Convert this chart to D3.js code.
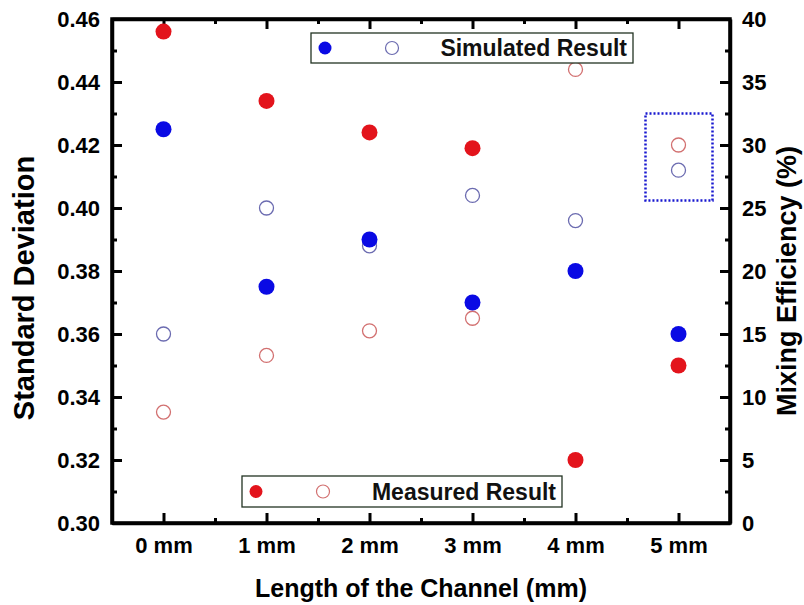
<!DOCTYPE html>
<html>
<head>
<meta charset="utf-8">
<script src="https://cdn.jsdelivr.net/npm/d3@7"></script>
<style>
  body { margin: 0; background: #fff; }
  svg { font-family: "Liberation Sans", Arial, sans-serif; font-weight: bold; }
</style>
</head>
<body>
<div id="chart"></div>
<script>
/** chart values */
const categories = ["0 mm", "1 mm", "2 mm", "3 mm", "4 mm", "5 mm"];
const simulatedStd = [0.425, 0.375, 0.390, 0.370, 0.380, 0.360];
const measuredStd = [0.456, 0.434, 0.424, 0.419, 0.320, 0.350];
const simulatedEff = [15, 25, 22, 26, 24, 28];
const measuredEff = [8.8, 13.3, 15.25, 16.25, 36, 30];
const leftTicks = [0.30, 0.32, 0.34, 0.36, 0.38, 0.40, 0.42, 0.44, 0.46];
const rightTicks = [0, 5, 10, 15, 20, 25, 30, 35, 40];

const width = 804, height = 605;
const margin = { top: 19, right: 74, bottom: 82, left: 112 };
const blue = "#0a0ae4", red = "#e3141c";
const blueOpen = "#6b6bb0", redOpen = "#d27070";

const svg = d3.select("#chart").append("svg")
  .attr("width", width).attr("height", height);

/** scales */
const x = d3.scalePoint().domain(categories)
  .range([margin.left, width - margin.right]).padding(0.5);
const yL = d3.scaleLinear().domain([0.30, 0.46])
  .range([height - margin.bottom, margin.top]);
const yR = d3.scaleLinear().domain([0, 40])
  .range([height - margin.bottom, margin.top]);

const step = x.step();
const minorX = categories.slice(0, -1).map((c) => x(c) + step / 2);
const minorL = d3.range(0.31, 0.46, 0.02);
const minorR = d3.range(2.5, 40, 5);
const xLinear = d3.scaleIdentity();

/** helper to style axis groups */
const styleAxis = (g) => {
  g.select(".domain").attr("stroke", "#000").attr("stroke-width", 3.5);
  g.selectAll(".tick line").attr("stroke", "#000").attr("stroke-width", 3);
  g.selectAll("text").attr("fill", "#000").attr("font-size", 22)
    .attr("font-weight", "bold").attr("font-family", "Liberation Sans, Arial, sans-serif");
};

const plotBottom = height - margin.bottom, plotTop = margin.top;
const plotLeft = margin.left, plotRight = width - margin.right;

/** minor ticks */
const minor = svg.append("g");
minor.append("g").attr("transform", `translate(0,${plotBottom})`)
  .call(d3.axisBottom(xLinear).tickValues(minorX).tickSize(-5).tickFormat(""))
  .call(styleAxis).select(".domain").remove();
minor.append("g").attr("transform", `translate(0,${plotTop})`)
  .call(d3.axisTop(xLinear).tickValues(minorX).tickSize(-5).tickFormat(""))
  .call(styleAxis).select(".domain").remove();
minor.append("g").attr("transform", `translate(${plotLeft},0)`)
  .call(d3.axisLeft(yL).tickValues(minorL).tickSize(-5).tickFormat(""))
  .call(styleAxis).select(".domain").remove();
minor.append("g").attr("transform", `translate(${plotRight},0)`)
  .call(d3.axisRight(yR).tickValues(minorR).tickSize(-5).tickFormat(""))
  .call(styleAxis).select(".domain").remove();

/** major axes */
svg.append("g").attr("transform", `translate(0,${plotBottom})`)
  .call(d3.axisBottom(x).tickSize(-10).tickSizeOuter(0).tickPadding(14))
  .call(styleAxis);
svg.append("g").attr("transform", `translate(0,${plotTop})`)
  .call(d3.axisTop(x).tickSize(-10).tickSizeOuter(0).tickFormat(""))
  .call(styleAxis);
svg.append("g").attr("transform", `translate(${plotLeft},0)`)
  .call(d3.axisLeft(yL).tickValues(leftTicks).tickSize(-10).tickSizeOuter(0)
    .tickPadding(12).tickFormat(d3.format(".2f")))
  .call(styleAxis);
svg.append("g").attr("transform", `translate(${plotRight},0)`)
  .call(d3.axisRight(yR).tickValues(rightTicks).tickSize(-10).tickSizeOuter(0)
    .tickPadding(12))
  .call(styleAxis);

/** close the frame cleanly at the corners */
svg.append("rect")
  .attr("x", plotLeft).attr("y", plotTop)
  .attr("width", plotRight - plotLeft).attr("height", plotBottom - plotTop)
  .attr("fill", "none").attr("stroke", "#000").attr("stroke-width", 3.5);

/** dotted highlight box around the 5 mm efficiency points */
svg.append("rect")
  .attr("x", x("5 mm") - 33).attr("y", yR(32.5))
  .attr("width", 67).attr("height", yR(25.6) - yR(32.5))
  .attr("fill", "none").attr("stroke", "#1818d0")
  .attr("stroke-width", 2.5).attr("stroke-dasharray", "2,2");

/** data points */
const points = (values, yScale, filled, color) =>
  svg.append("g").selectAll("circle").data(values).join("circle")
    .attr("cx", (d, i) => x(categories[i]))
    .attr("cy", (d) => yScale(d))
    .attr("r", filled ? 8 : 7)
    .attr("fill", filled ? color : "none")
    .attr("stroke", filled ? "none" : color)
    .attr("stroke-width", 1.3);

points(simulatedEff, yR, false, blueOpen);
points(measuredEff, yR, false, redOpen);
points(simulatedStd, yL, true, blue);
points(measuredStd, yL, true, red);

/** legends */
const legend = (bx, by, bw, bh, filledColor, openColor, label) => {
  const g = svg.append("g");
  g.append("rect").attr("x", bx).attr("y", by).attr("width", bw).attr("height", bh)
    .attr("fill", "#fff").attr("stroke", "#223322").attr("stroke-width", 1.3);
  const cy = by + bh / 2;
  g.append("circle").attr("cx", bx + 14).attr("cy", cy).attr("r", 6.5).attr("fill", filledColor);
  g.append("circle").attr("cx", bx + 81).attr("cy", cy).attr("r", 6.5)
    .attr("fill", "none").attr("stroke", openColor).attr("stroke-width", 1.2);
  g.append("text").attr("x", bx + bw - 6).attr("y", cy).attr("dy", "0.36em")
    .attr("text-anchor", "end").attr("font-size", 23).attr("fill", "#111").text(label);
};
legend(311, 33, 322, 30, blue, blueOpen, "Simulated Result");
legend(242, 476, 320, 31, red, redOpen, "Measured Result");

/** axis titles */
svg.append("text")
  .attr("x", (plotLeft + plotRight) / 2).attr("y", 597)
  .attr("text-anchor", "middle").attr("font-size", 25)
  .text("Length of the Channel (mm)");
svg.append("text")
  .attr("transform", "translate(34,288) rotate(-90)")
  .attr("text-anchor", "middle").attr("font-size", 29)
  .text("Standard Deviation");
svg.append("text")
  .attr("transform", "translate(796,281) rotate(-90)")
  .attr("text-anchor", "middle").attr("font-size", 27)
  .text("Mixing Efficiency (%)");
</script>
</body>
</html>
